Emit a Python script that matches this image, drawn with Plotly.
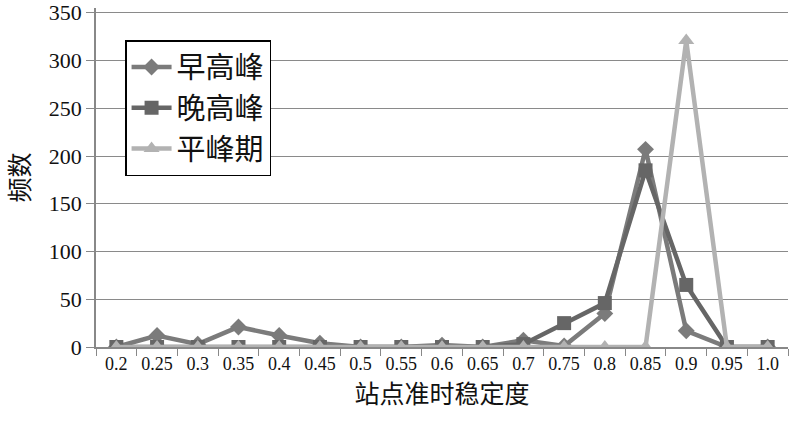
import plotly.graph_objects as go

categories = ["0.2", "0.25", "0.3", "0.35", "0.4", "0.45", "0.5", "0.55", "0.6",
              "0.65", "0.7", "0.75", "0.8", "0.85", "0.9", "0.95", "1.0"]
morning_peak = [0, 12, 3, 21, 12, 4, 0, 0, 2, 0, 7, 1, 35, 207, 17, 0, 0]
evening_peak = [0, 0, 0, 0, 0, 0, 0, 0, 0, 0, 3, 25, 46, 185, 65, 0, 0]
off_peak = [0, 0, 0, 0, 0, 0, 0, 0, 0, 0, 0, 0, 0, 0, 321, 0, 0]
y_ticks = [0, 50, 100, 150, 200, 250, 300, 350]

serif = "Liberation Serif, Times New Roman, serif"
cjk = "Noto Sans CJK SC, sans-serif"

fig = go.Figure()
fig.add_trace(go.Scatter(
    x=categories, y=morning_peak, name="早高峰", mode="lines+markers",
    line=dict(color="#7b7b7b", width=4.5),
    marker=dict(symbol="diamond", size=13, color="#7b7b7b"),
))
fig.add_trace(go.Scatter(
    x=categories, y=evening_peak, name="晚高峰", mode="lines+markers",
    line=dict(color="#666666", width=4.5),
    marker=dict(symbol="square", size=14, color="#666666"),
))
fig.add_trace(go.Scatter(
    x=categories, y=off_peak, name="平峰期", mode="lines+markers",
    line=dict(color="#b2b2b2", width=4.5),
    marker=dict(symbol="triangle-up", size=14, color="#b2b2b2"),
))

fig.update_layout(
    width=800, height=421,
    margin=dict(l=96, r=12, t=8, b=74),
    paper_bgcolor="white", plot_bgcolor="white",
    showlegend=True,
    legend=dict(
        x=0.042, y=0.905, xanchor="left", yanchor="top",
        bgcolor="white", bordercolor="black", borderwidth=1.5,
        font=dict(family=cjk, size=29, color="#111"),
        itemwidth=40,
    ),
    xaxis=dict(
        type="category", categoryorder="array", categoryarray=categories,
        range=[-0.5, 16.5], automargin=False, tickangle=0,
        showgrid=False, showline=True, linecolor="#888", linewidth=1.5,
        ticks="outside", tickson="boundaries", ticklen=7, tickcolor="#888",
        tickfont=dict(family=serif, size=18, color="#111"),
        title=dict(text="站点准时稳定度", font=dict(family=cjk, size=25, color="#111"), standoff=8),
        zeroline=False,
    ),
    yaxis=dict(
        range=[0, 355], tickmode="array", tickvals=y_ticks,
        ticktext=[str(v) for v in y_ticks], automargin=False,
        ticklabeloverflow="allow",
        showgrid=True, gridcolor="#8a8a8a", gridwidth=1.2,
        showline=True, linecolor="#888", linewidth=1.5,
        ticks="outside", ticklen=8, tickcolor="#888",
        tickfont=dict(family=serif, size=22, color="#111"),
        title=dict(text="频数", font=dict(family=cjk, size=25, color="#111"), standoff=12),
        zeroline=False,
    ),
)

fig.write_html("out.html", config={"displayModeBar": False},
               post_script="document.body.style.margin='0';")
